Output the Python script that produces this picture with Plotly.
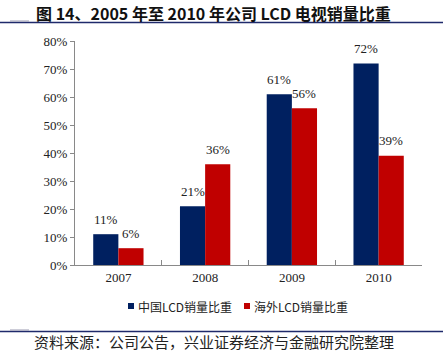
import plotly.graph_objects as go

years = ["2007", "2008", "2009", "2010"]
series_names = ["中国LCD销量比重", "海外LCD销量比重"]
china_share = [11, 21, 61, 72]
overseas_share = [6, 36, 56, 39]
series_colors = ["#002060", "#C00000"]
y_ticks = [0, 10, 20, 30, 40, 50, 60, 70, 80]
y_tick_labels = [f"{v}%" for v in y_ticks]

W, H = 443, 363
PL, PR, PT, PB = 75, 422, 41, 265
ph = PB - PT
pw = PR - PL
BARGAP = 0.42

def py(p):
    return (PB - p) / ph

def px(p):
    return (p - PL) / pw

serif = "Liberation Serif, Times New Roman, serif"
cjk = "Noto Sans CJK SC, sans-serif"

fig = go.Figure()
for name, vals, col in zip(series_names, [china_share, overseas_share], series_colors):
    fig.add_trace(go.Bar(
        x=years, y=vals, name=name,
        marker=dict(color=col, line=dict(width=0)),
        showlegend=False,
    ))

annotations = [
    dict(text="<b>图 14、2005 年至 2010 年公司 LCD 电视销量比重</b>",
         xref="paper", yref="paper", x=px(213), y=py(13),
         xanchor="center", yanchor="middle", showarrow=False,
         font=dict(family=cjk, size=16, color="#111")),
    dict(text="资料来源：公司公告，兴业证券经济与金融研究院整理",
         xref="paper", yref="paper", x=px(32), y=py(341),
         xanchor="left", yanchor="middle", showarrow=False,
         font=dict(family=cjk, size=15, color="#222")),
]
# value labels above bars (category index on the x axis)
group_frac = (1 - BARGAP) / 2
for i, vals in enumerate([china_share, overseas_share]):
    off = (i - 0.5) * group_frac
    for j, v in enumerate(vals):
        annotations.append(dict(text=f"{v}%", xref="x", yref="y", x=j + off, y=v,
                                yshift=15, xanchor="center",
                                yanchor="middle", showarrow=False,
                                font=dict(family=serif, size=13, color="#222")))
shapes = [
    dict(type="line", xref="paper", yref="paper", x0=px(0), x1=px(443),
         y0=py(22.5), y1=py(22.5), line=dict(color="#1F2A6B", width=1.5)),
    dict(type="line", xref="paper", yref="paper", x0=px(10), x1=px(29),
         y0=py(21), y1=py(21), line=dict(color="#9A9AB0", width=1)),
    dict(type="line", xref="paper", yref="paper", x0=px(0), x1=px(443),
         y0=py(331.5), y1=py(331.5), line=dict(color="#1F2A6B", width=1.5)),
    dict(type="line", xref="paper", yref="paper", x0=px(10), x1=px(29),
         y0=py(330), y1=py(330), line=dict(color="#9A9AB0", width=1)),
]
# manual legend
legend_x = [128, 244]
for lx, name, col in zip(legend_x, series_names, series_colors):
    shapes.append(dict(type="rect", xref="paper", yref="paper",
                       x0=px(lx), x1=px(lx + 6), y0=py(309), y1=py(303),
                       fillcolor=col, line=dict(width=0)))
    annotations.append(dict(text=name, xref="paper", yref="paper",
                            x=px(lx + 8), y=py(306), xanchor="left", yanchor="middle",
                            showarrow=False,
                            font=dict(family=cjk, size=12, color="#222")))

fig.update_layout(
    width=W, height=H,
    margin=dict(l=PL, r=W - PR, t=PT, b=H - PB, autoexpand=False),
    paper_bgcolor="white", plot_bgcolor="white",
    barmode="group", bargap=BARGAP, bargroupgap=0,
    showlegend=False,
    xaxis=dict(type="category", categoryorder="array", categoryarray=years,
               range=[-0.5, len(years) - 0.5],
               showline=True, linecolor="#898989", linewidth=1,
               ticks="inside", tickson="boundaries", ticklen=5, tickcolor="#898989",
               tickfont=dict(family=serif, size=13, color="#222"), showgrid=False),
    yaxis=dict(range=[0, 80], tickvals=y_ticks, ticktext=y_tick_labels,
               showline=True, linecolor="#898989", linewidth=1,
               ticks="outside", ticklen=4, tickcolor="#898989",
               tickfont=dict(family=serif, size=13, color="#222"),
               showgrid=False, zeroline=False),
    annotations=annotations,
    shapes=shapes,
)

fig.write_html("out.html", config={"displayModeBar": False},
               post_script="document.body.style.margin='0';document.body.style.padding='0';")
